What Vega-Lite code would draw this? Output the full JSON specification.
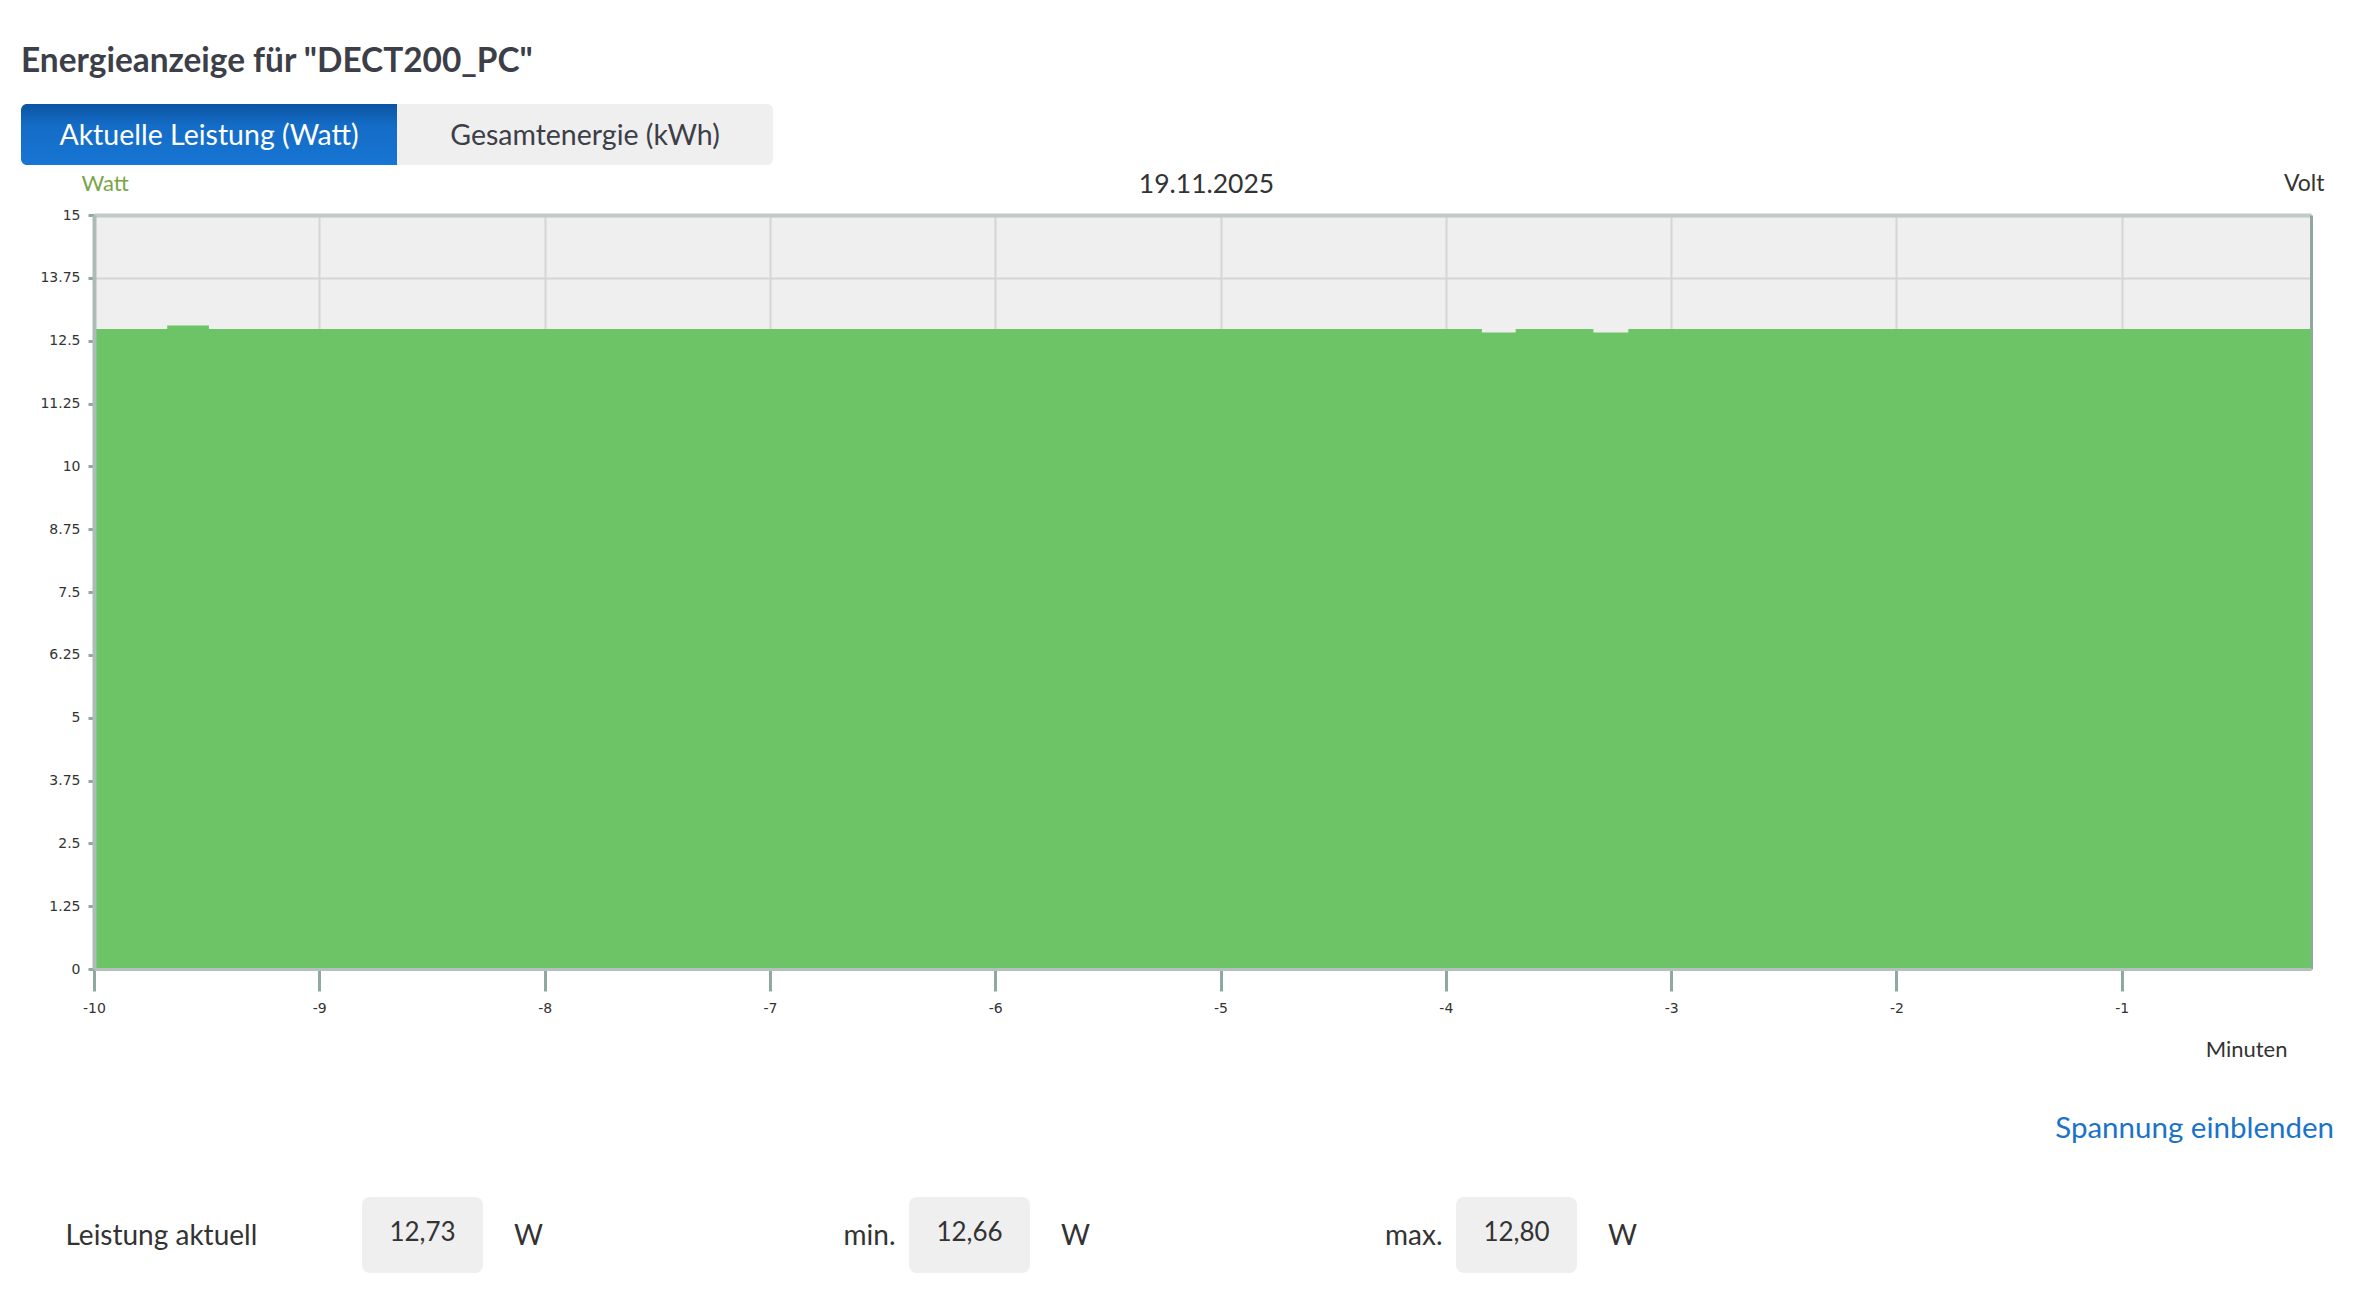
{
  "$schema": "https://vega.github.io/schema/vega-lite/v6.json",
  "background": "white",
  "padding": {"left": 21, "top": 44, "right": 0, "bottom": 0},
  "autosize": {"type": "pad"},
  "config": {"font": "Lato", "view": {"stroke": null}},
  "title": {"text": "Energieanzeige für \"DECT200_PC\"", "anchor": "start", "fontSize": 33.4, "fontWeight": "bold", "color": "#3c3e48", "font": "Lato", "baseline": "alphabetic", "offset": -1},
  "spacing": 53,
  "vconcat": [
    {
      "spacing": 6,
      "vconcat": [
        {
          "width": 679,
          "height": 61,
          "data": {"values": [
            {"tab": "Aktuelle Leistung (Watt)", "aktiv": "ja"},
            {"tab": "Gesamtenergie (kWh)", "aktiv": "nein"}
          ]},
          "encoding": {"x": {"field": "tab", "type": "nominal", "sort": null, "axis": null, "scale": {"domain": ["Aktuelle Leistung (Watt)", "Gesamtenergie (kWh)"], "range": [-73, 679], "paddingInner": 0, "paddingOuter": 0}}},
          "layer": [
            {
              "transform": [{"filter": "datum.aktiv === 'ja'"}],
              "mark": {"type": "rect", "cornerRadiusTopLeft": 6, "cornerRadiusBottomLeft": 6,
                "color": {"gradient": "linear", "x1": 0, "y1": 0, "x2": 0, "y2": 1, "stops": [
                  {"offset": 0, "color": "#0a54a2"}, {"offset": 0.35, "color": "#146cc6"}, {"offset": 1, "color": "#1775d3"}]}}
            },
            {
              "transform": [{"filter": "datum.aktiv === 'nein'"}],
              "mark": {"type": "rect", "cornerRadiusTopRight": 6, "cornerRadiusBottomRight": 6, "color": "#efefef"}
            },
            {
              "mark": {"type": "text", "fontSize": 28.5, "font": "Lato", "baseline": "alphabetic", "dy": 10},
              "encoding": {
                "text": {"field": "tab"},
                "color": {"field": "aktiv", "type": "nominal", "scale": {"domain": ["ja", "nein"], "range": ["#ffffff", "#3c3e48"]}, "legend": null}
              }
            }
          ]
        },
        {
          "width": 2217,
          "height": 754,
          "view": {"fill": "#efefef", "stroke": null},
          "data": {"values": [
            {"minuten": -10, "watt": 12.73},
            {"minuten": -9.675, "watt": 12.80},
            {"minuten": -9.49, "watt": 12.73},
            {"minuten": -3.84, "watt": 12.66},
            {"minuten": -3.69, "watt": 12.73},
            {"minuten": -3.345, "watt": 12.66},
            {"minuten": -3.19, "watt": 12.73},
            {"minuten": -0.16, "watt": 12.73}
          ]},
          "layer": [
            {
              "mark": {"type": "line", "strokeOpacity": 0, "interpolate": "step-after"},
              "encoding": {
                "x": {"field": "minuten", "type": "quantitative", "scale": {"domain": [-10, -0.16], "nice": false, "zero": false},
                  "axis": {"orient": "top", "values": [-10, -9, -8, -7, -6, -5, -4, -3, -2, -1], "labels": false, "ticks": false, "domain": true, "domainColor": "#c0cac6", "domainWidth": 4, "grid": true, "gridColor": "#d5d5d5", "gridWidth": 2, "zindex": 0,
                    "title": "19.11.2025", "titleFont": "Lato", "titleFontSize": 26.5, "titleFontWeight": "normal", "titleColor": "#333333", "titleAlign": "center", "titleBaseline": "alphabetic", "titleX": 1112, "titleY": -23}},
                "y": {"field": "watt", "type": "quantitative", "scale": {"domain": [0, 15], "nice": false},
                  "axis": {"orient": "right", "values": [0, 1.25, 2.5, 3.75, 5, 6.25, 7.5, 8.75, 10, 11.25, 12.5, 13.75, 15], "labels": false, "ticks": false, "domain": true, "domainColor": "#8fa99f", "domainWidth": 3, "grid": true, "gridColor": "#d5d5d5", "gridWidth": 2, "zindex": 0,
                    "title": "Volt", "titleAngle": 0, "titleAlign": "right", "titleBaseline": "alphabetic", "titleX": 13, "titleY": -25, "titleFont": "Lato", "titleFontSize": 23, "titleFontWeight": "normal", "titleColor": "#333333"}}
              }
            },
            {
              "mark": {"type": "area", "interpolate": "step-after", "color": "#6cc466", "opacity": 1},
              "encoding": {
                "x": {"field": "minuten", "type": "quantitative",
                  "axis": {"orient": "bottom", "values": [-10, -9, -8, -7, -6, -5, -4, -3, -2, -1], "labelExpr": "'' + datum.value", "labelFlush": false, "grid": false, "zindex": 1,
                    "domain": true, "domainColor": "#b4c0bc", "domainWidth": 3, "ticks": true, "tickSize": 22, "tickWidth": 3, "tickColor": "#8fa99f",
                    "labelFont": "DejaVu Sans", "labelFontSize": 14, "labelColor": "#333333", "labelPadding": 10,
                    "title": "Minuten", "titleFont": "Lato", "titleFontSize": 22, "titleFontWeight": "normal", "titleColor": "#333333", "titleAlign": "right", "titleBaseline": "alphabetic", "titleX": 2193, "titleY": 87}},
                "y": {"field": "watt", "type": "quantitative",
                  "axis": {"orient": "left", "values": [0, 1.25, 2.5, 3.75, 5, 6.25, 7.5, 8.75, 10, 11.25, 12.5, 13.75, 15], "labelExpr": "'' + datum.value", "labelFlush": false, "grid": false, "zindex": 1,
                    "domain": true, "domainColor": "#adbcb7", "domainWidth": 4, "ticks": true, "tickSize": 6, "tickWidth": 3, "tickColor": "#8fa99f",
                    "labelFont": "DejaVu Sans", "labelFontSize": 14, "labelColor": "#333333", "labelPadding": 8, "minExtent": 73, "maxExtent": 73,
                    "title": "Watt", "titleAngle": 0, "titleAlign": "left", "titleBaseline": "alphabetic", "titleX": -13, "titleY": -25, "titleFont": "Lato", "titleFontSize": 22, "titleFontWeight": "normal", "titleColor": "#78a548"}}
              }
            }
          ],
          "resolve": {"axis": {"x": "independent", "y": "independent"}}
        }
      ]
    },
    {
      "width": 2240,
      "height": 76,
      "title": {"text": "Spannung einblenden", "anchor": "end", "frame": "group", "color": "#1a73c9", "fontSize": 29.5, "fontWeight": "normal", "font": "Lato", "baseline": "alphabetic", "offset": 30},
      "data": {"values": [
        {"art": "aktuell", "bezeichnung": "Leistung aktuell", "wert": "12,73", "einheit": "W"},
        {"art": "min", "bezeichnung": "min.", "wert": "12,66", "einheit": "W"},
        {"art": "max", "bezeichnung": "max.", "wert": "12,80", "einheit": "W"}
      ]},
      "encoding": {"x": {"field": "art", "type": "nominal", "sort": null, "axis": null, "scale": {"domain": ["aktuell", "min", "max"], "paddingInner": 0, "paddingOuter": 0.5475, "align": 0.0918}}},
      "layer": [
        {"mark": {"type": "bar", "width": 121, "cornerRadius": 8, "color": "#efefef"}},
        {"mark": {"type": "text", "fontSize": 26, "font": "Lato", "color": "#333333", "baseline": "alphabetic", "dy": 6}, "encoding": {"text": {"field": "wert"}}},
        {"mark": {"type": "text", "fontSize": 28, "font": "Lato", "color": "#333333", "baseline": "alphabetic", "dy": 10, "dx": 106}, "encoding": {"text": {"field": "einheit"}}},
        {"transform": [{"filter": "datum.art === 'aktuell'"}], "mark": {"type": "text", "fontSize": 28, "font": "Lato", "color": "#333333", "baseline": "alphabetic", "align": "left", "dy": 10, "dx": -357}, "encoding": {"text": {"field": "bezeichnung"}}},
        {"transform": [{"filter": "datum.art !== 'aktuell'"}], "mark": {"type": "text", "fontSize": 28, "font": "Lato", "color": "#333333", "baseline": "alphabetic", "align": "right", "dy": 10, "dx": -74}, "encoding": {"text": {"field": "bezeichnung"}}}
      ]
    }
  ]
}
